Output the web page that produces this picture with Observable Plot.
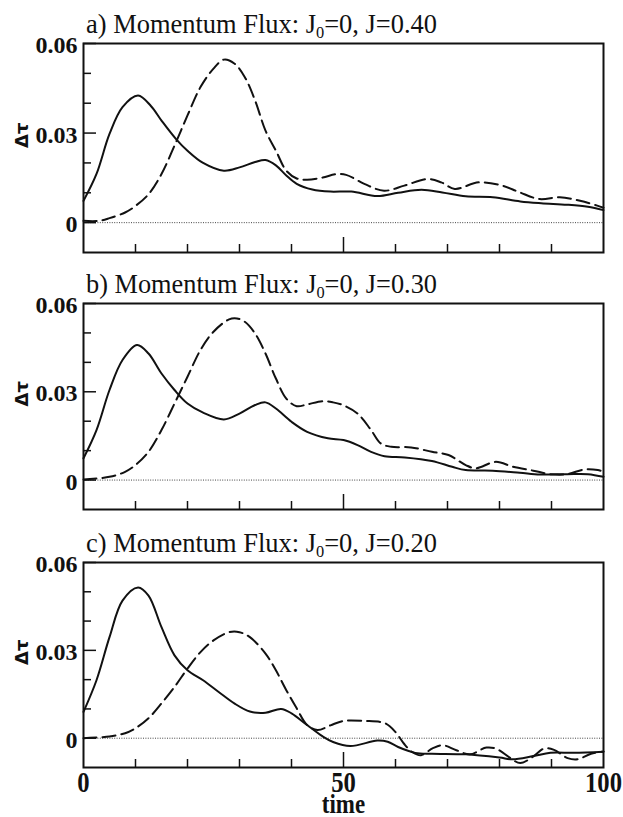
<!DOCTYPE html>
<html><head><meta charset="utf-8">
<script src="https://cdn.jsdelivr.net/npm/d3@7"></script>
<script src="https://cdn.jsdelivr.net/npm/@observablehq/plot@0.6"></script>
<style>
body{margin:0;background:#fff;}
#wrap{position:relative;width:623px;height:817px;overflow:hidden;background:#fff;}
.title{position:absolute;left:86px;font-family:"Liberation Serif","Times New Roman",serif;font-size:27px;line-height:27px;white-space:nowrap;transform-origin:left top;color:#111;}
.title sub{font-size:0.62em;vertical-align:-0.28em;line-height:0;}
.panel{position:absolute;left:0;}
</style>
</head><body>
<div id="wrap"></div>
<script>
// ---- data ----
const panelLetters = ["a", "b", "c"];
const jValues = ["0.40", "0.30", "0.20"];
const xMinorTicks = [10, 20, 30, 40, 60, 70, 80, 90];
const xMajorTicks = [50];
const xLabelValues = [0, 50, 100];
const xTickLabels = ["0", "50", "100"];
const yMinorTicks = [0.01, 0.02, 0.04, 0.05];
const yMajorTicks = [0, 0.03, 0.06];
const yTickLabels = ["0", "0.03", "0.06"];
const yLabel = "Δτ";
const xLabel = "time";

// panel a (J=0.40)
const aSolidT = [0,2.5,5,7.5,10.5,13,15,17.8,20,23,27,30,33,35,37,39,41,44,47.5,51.5,56.5,60.5,65,69,73.5,78.7,84,88,93,97,100];
const aSolidV = [.0073,.0163,.0297,.0387,.0426,.039,.0342,.028,.0241,.02,.0174,.0185,.0203,.021,.0192,.0158,.013,.0111,.0104,.0104,.0089,.0100,.011,.0101,.0088,.0085,.0071,.0065,.006,.0053,.0042];
const aDashT = [0,3,5,8,10,12.5,15,17.5,20,22.5,25,27,29,31,33,35,37,39,41,43,46,48.5,50.5,54,57.8,61.7,66.2,68.8,71.4,76,80.5,83.8,87.7,91.6,95.5,98.8,100];
const aDashV = [.0006,.0006,.0015,.0034,.0056,.0095,.0163,.0258,.0359,.0454,.0516,.0546,.0533,.0488,.0409,.0308,.0241,.0174,.0148,.0144,.0151,.0162,.016,.013,.0107,.0124,.0146,.0135,.0113,.0135,.0124,.0102,.0079,.0085,.0073,.0057,.005];
// panel b (J=0.30)
const bSolidT = [0,2.5,5,7.5,10.3,12.5,15,17.5,20,23,27,30,33,35,37,40,43,47,50,52.7,55.3,57.9,61.8,67,70.9,73.5,78.7,83.9,87.8,93,97,100];
const bSolidV = [.0074,.017,.0306,.0408,.0459,.043,.0362,.0306,.026,.0229,.0206,.0226,.0255,.0264,.0243,.0198,.0164,.0142,.0136,.0119,.0096,.0081,.0077,.0065,.0045,.0034,.0032,.0025,.0019,.002,.002,.0011];
const bDashT = [0,5,8,10,12.5,15,17.5,20,22.5,25,28,29.5,31,33,35,37,39,41,43,46,48,50,52.7,55.3,57.2,59.2,63,67,70.2,73.5,75.4,79.3,82.6,86.5,89.8,93,96.3,98.9,100];
const bDashV = [.0002,.0011,.0028,.0051,.0096,.017,.026,.0351,.0442,.0504,.0546,.0549,.0538,.0498,.043,.0345,.0277,.0251,.0257,.0268,.0264,.0254,.0226,.017,.0124,.0113,.0111,.0096,.0085,.0051,.004,.0062,.0045,.0032,.002,.002,.0036,.0034,.0028];
// panel c (J=0.20)
const cSolidT = [0,2.5,5,7.5,10.5,12.5,15,17.5,20,23,26,29,32,35,38,40,43,46,48,51.3,56.5,58.5,60.5,63.8,67,73.5,80,82.5,86.5,89.8,94.3,100];
const cSolidV = [.009,.0198,.0345,.047,.0515,.0487,.0379,.0283,.0232,.0198,.0158,.0119,.0091,.0087,.01,.0085,.0045,.0006,-.0013,-.0027,-.0008,-.0012,-.003,-.005,-.0053,-.0055,-.0066,-.0072,-.0061,-.005,-.005,-.0046];
const cDashT = [0,5,8,10,12.5,15,17.5,20,22.5,25,28,30,32,35,37,39,41,43,45,47.5,50,54,58,60,61.6,63.2,64.9,67.2,69.1,71.7,74.3,77.5,79.5,82.1,84,86.6,88.6,90.5,93.1,95,97.6,100];
const cDashV = [0,.0006,.0017,.0034,.0068,.0119,.0175,.0238,.0294,.0334,.0362,.0362,.0345,.0289,.0232,.0164,.0102,.0045,.0028,.0044,.0059,.0059,.0051,.0021,-.0018,-.0047,-.0058,-.0034,-.0024,-.0041,-.0055,-.0032,-.0037,-.0068,-.0085,-.0061,-.0035,-.004,-.0068,-.0072,-.0053,-.0045];

const toRows = (T, V) => T.map((t, i) => ({t, v: V[i]}));
const panels = [
  {solid: toRows(aSolidT, aSolidV), dashed: toRows(aDashT, aDashV), svgTop: 33, height: 227, mb: 8, titleTop: 11, bottom: false},
  {solid: toRows(bSolidT, bSolidV), dashed: toRows(bDashT, bDashV), svgTop: 293, height: 224, mb: 8, titleTop: 271, bottom: false},
  {solid: toRows(cSolidT, cSolidV), dashed: toRows(cDashT, cDashV), svgTop: 552, height: 265, mb: 50, titleTop: 530, bottom: true}
];

const wrap = document.getElementById("wrap");
const serif = "Liberation Serif, Times New Roman, serif";

panels.forEach((p, k) => {
  const marks = [
    Plot.ruleY([0], {stroke: "#444", strokeWidth: 1, strokeDasharray: "1,1.4"}),
    Plot.line(p.solid, {x: "t", y: "v", curve: "catmull-rom", stroke: "#111", strokeWidth: 2}),
    Plot.line(p.dashed, {x: "t", y: "v", curve: "catmull-rom", stroke: "#111", strokeWidth: 2, strokeDasharray: "13,6"}),
    Plot.frame({stroke: "#111", strokeWidth: 2}),
    Plot.axisY(yMinorTicks, {label: null, tickSize: -8, tickFormat: () => "", stroke: "#111", strokeWidth: 1.5}),
    Plot.axisY(yMajorTicks, {label: null, tickSize: -13, tickFormat: () => "", stroke: "#111", strokeWidth: 1.5}),
    Plot.axisY(yMajorTicks, {label: null, tickSize: 0, tickPadding: 6, tickFormat: d => yTickLabels[yMajorTicks.indexOf(d)], fontSize: 24, fontFamily: serif, fontWeight: "bold", fill: "#111", dy: 2}),
    Plot.axisX(xMinorTicks, {label: null, tickSize: -8, tickFormat: () => "", stroke: "#111", strokeWidth: 1.5}),
    Plot.axisX(xMajorTicks, {label: null, tickSize: -15, tickFormat: () => "", stroke: "#111", strokeWidth: 1.5}),
    Plot.text([yLabel], {frameAnchor: "left", rotate: -90, dx: -61, fontSize: 18, fontWeight: "bold", fontFamily: "DejaVu Sans, sans-serif", fill: "#111"})
  ];
  if (p.bottom) {
    marks.push(Plot.axisX(xLabelValues, {label: null, tickSize: 0, tickPadding: 4, tickFormat: d => xTickLabels[xLabelValues.indexOf(d)], fontSize: 29, fontFamily: serif, fontWeight: "bold", fill: "#111"}));
    marks.push(Plot.text([xLabel], {frameAnchor: "bottom", lineAnchor: "top", dy: 26, fontSize: 27, fontWeight: "bold", fontFamily: serif, fill: "#111"}));
  }
  const chart = Plot.plot({
    width: 623,
    height: p.height,
    marginLeft: 83,
    marginRight: 20,
    marginTop: 10,
    marginBottom: p.mb,
    x: {domain: [0, 100], axis: null, label: null},
    y: {domain: [-0.01, 0.06], axis: null, label: null},
    style: {background: "white", color: "#111", fontFamily: serif, overflow: "visible"},
    marks
  });
  chart.classList.add("panel");
  chart.style.top = p.svgTop + "px";
  wrap.appendChild(chart);
  // condense bottom tick labels & axis title like the original typeface
  chart.querySelectorAll('g[aria-label="x-axis tick label"] text').forEach(t => {
    t.setAttribute("transform", (t.getAttribute("transform") || "") + " scale(0.85,1)");
  });
  chart.querySelectorAll('g[aria-label="text"] text').forEach(t => {
    if (t.textContent === xLabel) t.setAttribute("transform", (t.getAttribute("transform") || "") + " scale(0.85,1)");
  });

  const title = document.createElement("div");
  title.className = "title";
  title.style.top = p.titleTop + "px";
  title.innerHTML = `${panelLetters[k]}) Momentum Flux: J<sub>0</sub>=0, J=${jValues[k]}`;
  wrap.appendChild(title);
  const w = title.getBoundingClientRect().width;
  title.style.transform = `scaleX(${351 / w})`;
});
</script>
</body></html>
